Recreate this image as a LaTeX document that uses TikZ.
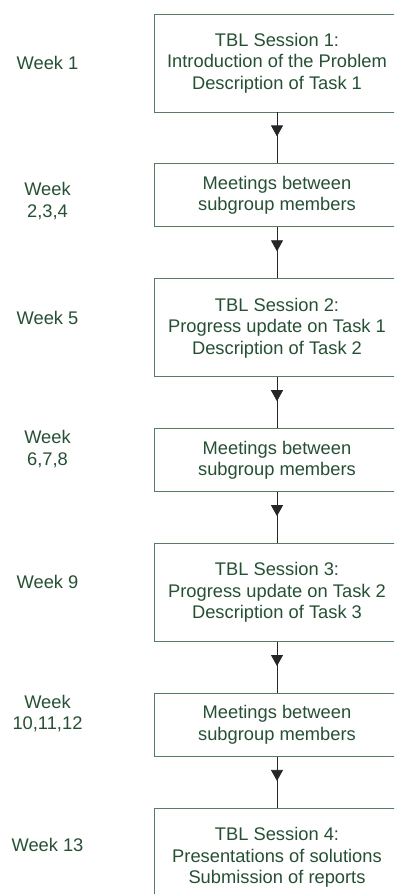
\documentclass[tikz,border=0pt]{standalone}
\usepackage{fontspec}
\setmainfont{Liberation Sans}
\usetikzlibrary{arrows.meta, positioning, decorations.markings}
\definecolor{textoverde}{RGB}{38,80,52}
\definecolor{bordeverde}{RGB}{88,124,98}
\tikzset{
  sesion/.style={rectangle, draw=bordeverde, fill=white, line width=0.9pt,
    minimum width=246pt, minimum height=98pt, align=center, text=textoverde,
    font=\fontsize{18.3}{21.5}\selectfont},
  reunion/.style={sesion, minimum height=63pt},
  semana/.style={align=center, text=textoverde, font=\fontsize{18.3}{21.5}\selectfont},
  flecha/.style={draw=black!85, line width=0.8pt, postaction={decorate},
    decoration={markings, mark=at position 0.47 with
      {\arrow{Triangle[width=12pt,length=11pt]}}}}
}

\begin{document}
\begin{tikzpicture}[node distance=51pt]
  \useasboundingbox (0,0) rectangle (394pt,-894pt);
  \clip (0,0) rectangle (394pt,-894pt);
  \node[sesion] (s1) at (277pt,-63pt) {TBL Session 1:\\Introduction of the Problem\\Description of Task 1};
  \node[reunion, below=of s1] (r1) {Meetings between\\subgroup members};
  \node[sesion, below=of r1] (s2) {TBL Session 2:\\Progress update on Task 1\\Description of Task 2};
  \node[reunion, below=of s2] (r2) {Meetings between\\subgroup members};
  \node[sesion, below=of r2] (s3) {TBL Session 3:\\Progress update on Task 2\\Description of Task 3};
  \node[reunion, below=of s3] (r3) {Meetings between\\subgroup members};
  \node[sesion, below=of r3] (s4) {TBL Session 4:\\Presentations of solutions\\Submission of reports};
  % semanas
  \node[semana] (w1) at (47.5pt,-63pt) {Week 1};
  \node[semana] (w2) at (47.5pt,-201pt) {Week\\2,3,4};
  \node[semana] (w3) at (47.5pt,-318pt) {Week 5};
  \node[semana] (w4) at (47.5pt,-449pt) {Week\\6,7,8};
  \node[semana] (w5) at (47.5pt,-582pt) {Week 9};
  \node[semana] (w6) at (47.5pt,-713.5pt) {Week\\10,11,12};
  \node[semana] (w7) at (47.5pt,-845pt) {Week 13};
  \draw[flecha] (s1) -- (r1);
  \draw[flecha] (r1) -- (s2);
  \draw[flecha] (s2) -- (r2);
  \draw[flecha] (r2) -- (s3);
  \draw[flecha] (s3) -- (r3);
  \draw[flecha] (r3) -- (s4);
\end{tikzpicture}
\end{document}
